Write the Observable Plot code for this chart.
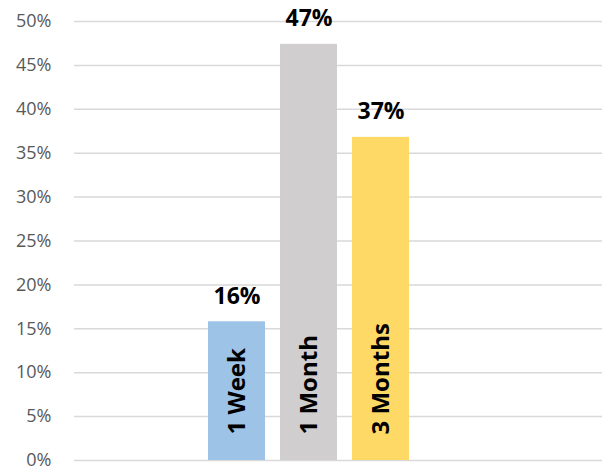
<!DOCTYPE html>
<html>
<head>
<meta charset="utf-8">
<script src="https://cdn.jsdelivr.net/npm/d3@7"></script>
<script src="https://cdn.jsdelivr.net/npm/@observablehq/plot@0.6"></script>
<style>
  html, body { margin: 0; padding: 0; background: #fff; }
  #chart svg { display: block; }
</style>
</head>
<body>
<div id="chart"></div>
<script>
const categories = ["1 Week", "1 Month", "3 Months"];
const values = [0.158, 0.474, 0.368];
const valueLabels = ["16%", "47%", "37%"];
const colors = ["#9dc3e6", "#d0cece", "#ffd966"];
const yTicks = [0, 0.05, 0.10, 0.15, 0.20, 0.25, 0.30, 0.35, 0.40, 0.45, 0.50];

const data = categories.map((c, i) => ({cat: c, value: values[i], label: valueLabels[i], color: colors[i]}));

const font = "'Open Sans', 'DejaVu Sans', sans-serif";

const chart = Plot.plot({
  width: 602,
  height: 470,
  marginLeft: 74,
  marginRight: 0,
  marginTop: 21,
  marginBottom: 10,
  style: {fontFamily: font, background: "#fff"},
  x: {domain: categories, range: [200.5, 416.5], paddingInner: 0.208, paddingOuter: 0.104, axis: null},
  y: {domain: [0, 0.5], ticks: yTicks, tickFormat: d => Math.round(d * 100) + "%", label: null},
  marks: [
    Plot.ruleY(yTicks, {stroke: "#d9d9d9", strokeWidth: 1.5}),
    Plot.axisY({ticks: yTicks, tickFormat: d => Math.round(d * 100) + "%", tickSize: 0, tickPadding: 23, fontSize: 18, fill: "#595959", label: null}),
    Plot.barY(data, {x: "cat", y: "value", fill: "color"}),
    Plot.text(data, {x: "cat", y: "value", text: "label", dy: -18, lineAnchor: "bottom", fontSize: 23, fontWeight: "bold", fill: "#000"}),
    Plot.text(data, {x: "cat", y: 0, text: "cat", rotate: -90, textAnchor: "start", dy: -26, fontSize: 24, fontWeight: "bold", fill: "#000"})
  ]
});
document.getElementById("chart").appendChild(chart);
</script>
</body>
</html>
